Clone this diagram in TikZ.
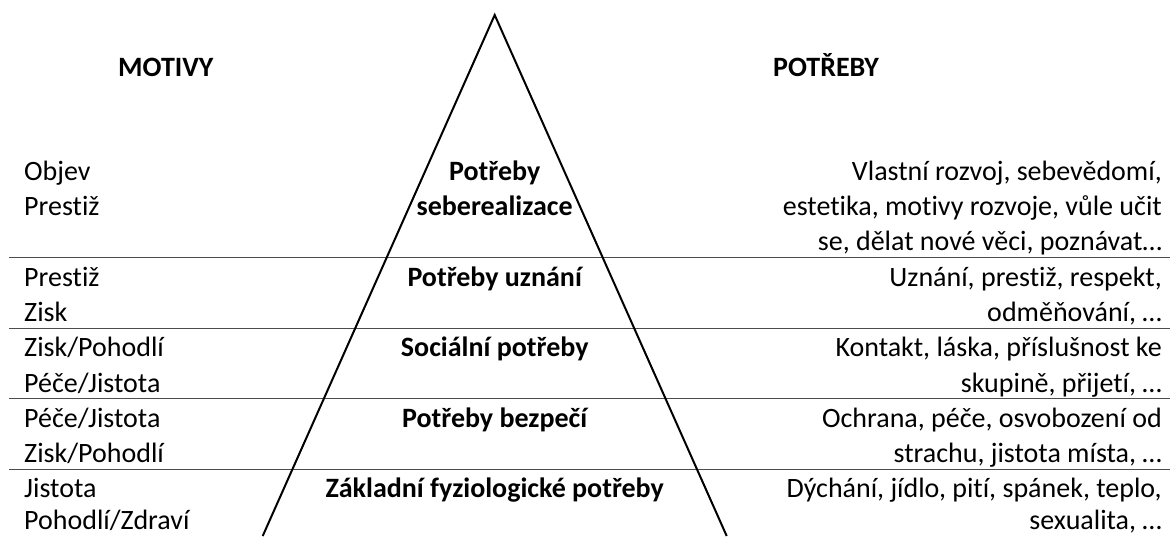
\documentclass[tikz,border=0pt]{standalone}
\usepackage{fontspec}
\setmainfont[Ligatures=NoCommon]{Carlito}
\begin{document}
\begin{tikzpicture}[x=1pt,y=-1pt,
  txt/.style={inner sep=0pt,font=\fontsize{28}{33}\selectfont},
  lefttxt/.style={txt,anchor=base west},
  righttxt/.style={txt,anchor=base east},
  midtxt/.style={txt,anchor=base,font=\fontsize{28}{33}\selectfont\bfseries},
  headtxt/.style={txt,anchor=base west,font=\fontsize{28}{33}\selectfont\bfseries},
  sepline/.style={draw=black!70,line width=1pt},
  tri/.style={draw=black,line width=2pt,line join=miter}]
\useasboundingbox (0,0) rectangle (1170,536);
\def\bx{24}
\def\rx{1162}
\def\cx{494.7}
% headers
\node[headtxt] (hmot) at (118,76) {MOTIVY};
\node[headtxt] (hpot) at (773,76) {POTŘEBY};
% separator lines
\coordinate (l1a) at (9,257); \coordinate (l1b) at (1170,257);
\coordinate (l2a) at (9,328); \coordinate (l2b) at (1170,328);
\coordinate (l3a) at (9,398); \coordinate (l3b) at (1170,398);
\coordinate (l4a) at (9,469); \coordinate (l4b) at (1170,469);
\draw[sepline] (l1a) -- (l1b);
\draw[sepline] (l2a) -- (l2b);
\draw[sepline] (l3a) -- (l3b);
\draw[sepline] (l4a) -- (l4b);
% triangle
\coordinate (apex) at (\cx,15);
\coordinate (bl) at (262.7,536);
\coordinate (br) at (726.7,536);
\draw[tri] (bl) -- (apex) -- (br);
% left column
\node[lefttxt] (m1a) at (\bx,180) {Objev};
\node[lefttxt] (m1b) at (\bx,215.3) {Prestiž};
\node[lefttxt] (m2a) at (\bx,286) {Prestiž};
\node[lefttxt] (m2b) at (\bx,321.3) {Zisk};
\node[lefttxt] (m3a) at (\bx,356.7) {Zisk/Pohodlí};
\node[lefttxt] (m3b) at (\bx,392) {Péče/Jistota};
\node[lefttxt] (m4a) at (\bx,427.3) {Péče/Jistota};
\node[lefttxt] (m4b) at (\bx,462.7) {Zisk/Pohodlí};
\node[lefttxt] (m5a) at (\bx,497) {Jistota};
\node[lefttxt] (m5b) at (\bx,529) {Pohodlí/Zdraví};
% middle
\node[midtxt] (p1a) at (\cx,180) {Potřeby};
\node[midtxt] (p1b) at (\cx,215.3) {seberealizace};
\node[midtxt] (p2) at (\cx,286) {Potřeby uznání};
\node[midtxt] (p3) at (\cx,356.7) {Sociální potřeby};
\node[midtxt] (p4) at (\cx,427.3) {Potřeby bezpečí};
\node[midtxt] (p5) at (\cx,497) {Základní fyziologické potřeby};
% right column
\node[righttxt] (r1a) at (\rx,180) {Vlastní rozvoj, sebevědomí,};
\node[righttxt] (r1b) at (\rx,215.3) {estetika, motivy rozvoje, vůle učit};
\node[righttxt] (r1c) at (\rx,250.7) {se, dělat nové věci, poznávat…};
\node[righttxt] (r2a) at (\rx,286) {Uznání, prestiž, respekt,};
\node[righttxt] (r2b) at (\rx,321.3) {odměňování, …};
\node[righttxt] (r3a) at (\rx,356.7) {Kontakt, láska, příslušnost ke};
\node[righttxt] (r3b) at (\rx,392) {skupině, přijetí, …};
\node[righttxt] (r4a) at (\rx,427.3) {Ochrana, péče, osvobození od};
\node[righttxt] (r4b) at (\rx,462.7) {strachu, jistota místa, …};
\node[righttxt] (r5a) at (\rx,497) {Dýchání, jídlo, pití, spánek, teplo,};
\node[righttxt] (r5b) at (\rx,529) {sexualita, …};
\end{tikzpicture}
\end{document}
